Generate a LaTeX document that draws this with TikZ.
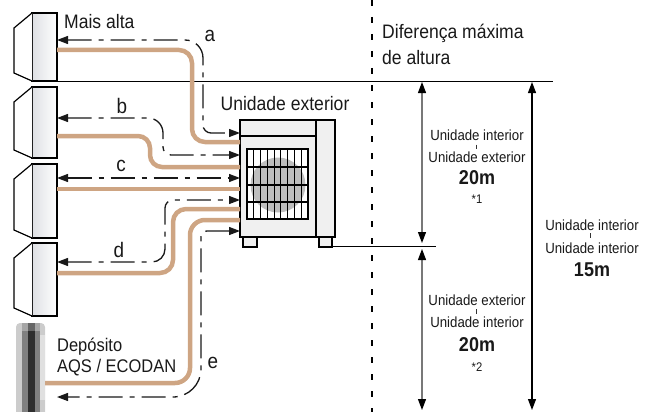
\documentclass[tikz,border=0pt]{standalone}
\usepackage{fontspec}
\setmainfont{Liberation Sans}[FakeStretch=0.9]
\usetikzlibrary{arrows.meta,calc}
\definecolor{pipecol}{RGB}{206,165,131}
\definecolor{iugray}{RGB}{222,224,228}
\definecolor{ougray}{RGB}{240,240,240}
\definecolor{fangray}{RGB}{190,190,190}
\definecolor{dimgray}{RGB}{120,120,120}
\begin{document}
\begin{tikzpicture}[x=1pt,y=-1pt,
  iubox/.style={draw=black, line width=1.2pt, minimum width=25pt, outer sep=0pt, inner sep=0pt,
     left color=iugray, right color=white, shading angle=90},
  iuside/.style={draw=black, line width=1.2pt, fill=white, line join=miter},
  pipeline/.style={draw=pipecol, line width=4.5pt, rounded corners=13pt},
  dashline/.style={draw=black!90, line width=1.3pt, dash pattern=on 24pt off 7pt on 5pt off 7pt,
     {Triangle[width=8pt,length=11pt]}-{Triangle[width=8pt,length=11pt]}},
  bigtxt/.style={font=\fontsize{19.5}{23}\selectfont, inner sep=0pt, text=black!90},
  midtxt/.style={font=\fontsize{18.3}{22}\selectfont, inner sep=0pt, text=black!90},
  lettxt/.style={font=\fontsize{21}{24}\selectfont, inner sep=0pt, text=black!90},
  smalltxt/.style={font=\fontsize{14.7}{17}\selectfont, inner sep=0pt, text=black!90},
  numtxt/.style={font=\bfseries\fontsize{20}{24}\selectfont, inner sep=0pt, text=black!90},
  notetxt/.style={font=\fontsize{12.5}{15}\selectfont, inner sep=0pt, text=black!90},
  dimarrow/.style={line width=1.2pt, {Triangle[width=8pt,length=11pt,color=black]}-{Triangle[width=8pt,length=11pt,color=black]}},
  tickline/.style={line width=0.7pt, black!80}
]
\useasboundingbox (0,0) rectangle (653,412);

% ---- reference lines
\draw[line width=1pt] (32,81) -- (553,81);
\draw[line width=1pt] (330,246) -- (436,246);
\draw[line width=1.4pt, dash pattern=on 6pt off 11pt] (372,0) -- (372,412);

% ---- indoor units
\node[iubox, minimum height=68pt] (u1) at (44.5,47) {};
\node[iubox, minimum height=71pt] (u2) at (44.5,122.5) {};
\node[iubox, minimum height=74pt] (u3) at (44.5,201) {};
\node[iubox, minimum height=73pt] (u4) at (44.5,279.5) {};
\foreach \u in {u1,u2,u3,u4}{
  \draw[iuside] (\u.north west) -- ++(-18,15) -- ($(\u.south west)+(-18,-8)$) -- (\u.south west);
}

% ---- tank
\node[minimum width=29pt, minimum height=95pt, inner sep=0pt, outer sep=0pt] (tank) at (30.5,370.5) {};
\fill[black!20, rounded corners=4pt] (16,323) rectangle (45,430);
\fill[black!50] (22,323) rectangle (39.5,430);
\fill[black!35] (22,323) rectangle (39.5,331);
\fill[black!82] (27.5,331) rectangle (34.5,430);
\fill[black!60] (27.5,323) rectangle (34.5,331);
\fill[black!12] (39.5,335) rectangle (45,400);

% ---- outdoor unit
\node[draw=black, line width=1.2pt, fill=ougray, minimum width=95pt, minimum height=117pt,
      inner sep=0pt, outer sep=0pt] (ou) at (287.5,178.5) {};
\draw[line width=1.2pt, fill=ougray] (243,237) rectangle (257,247);
\draw[line width=1.2pt, fill=ougray] (319,237) rectangle (332,247);
\draw[line width=1.2pt] (316,120) -- (316,237);
\draw[line width=1.2pt] (240,136) -- (316,136);
\fill[white] (247,149) rectangle (308,219);
\fill[fangray] (278,185) circle (27.5);
\draw[line width=1.2pt] (247,149) rectangle (308,219);
\foreach \i in {1,...,8}{ \draw[line width=1.1pt] ({247+\i*61/9},149) -- ({247+\i*61/9},219); }
\foreach \j in {167,185,202}{ \draw[line width=1.1pt] (247,\j) -- (308,\j); }

% ---- pipes
\draw[pipeline] (u1.east |- 0,50) -- (192,50) -- (192,142) -- (ou.west |- 0,142);
\draw[pipeline, rounded corners=12pt] (u2.east |- 0,136) -- (150,136) -- (150,167) -- (ou.west |- 0,167);
\draw[pipeline] (u3.east |- 0,189) -- (ou.west |- 0,189);
\draw[pipeline] (u4.east |- 0,273) -- (173,273) -- (173,209) -- (ou.west |- 0,209);
\draw[pipeline, rounded corners=15pt] (tank.east |- 0,383) -- (190,383) -- (190,220) -- (ou.west |- 0,220);

% ---- dashed measure lines
\coordinate (eend) at (57,397);
\draw[dashline, rounded corners=18pt] (u1.east |- 0,40) -- (203,40) [rounded corners=8pt] -- (203,133) -- (ou.west |- 0,133);
\draw[dashline, rounded corners=15pt] (u2.east |- 0,118) -- (163,118) [rounded corners=8pt] -- (163,155) -- (ou.west |- 0,155);
\draw[dashline] (u3.east |- 0,178) -- (ou.west |- 0,178);
\draw[dashline, rounded corners=13pt] (u4.east |- 0,262) -- (165,262) [rounded corners=8pt] -- (165,200) -- (ou.west |- 0,200);
\draw[dashline, rounded corners=6pt] (ou.west |- 0,231) -- (201,231) [rounded corners=28pt] -- (201,397) -- (eend);

% ---- labels left
\node[bigtxt, anchor=base west] (lmais) at (64,29) {Mais alta};
\node[lettxt] (la) at (210,36) {a};
\node[lettxt] (lb) at (122,106) {b};
\node[lettxt] (lc) at (121,166) {c};
\node[lettxt] (ld) at (119,250) {d};
\node[lettxt] (le) at (213,363) {e};
\node[bigtxt, anchor=base] (lou) at (285,110) {Unidade exterior};
\node[midtxt, anchor=base west] (ldep) at (57,351) {Depósito};
\node[midtxt, anchor=base west] (laqs) at (57,372) {AQS / ECODAN};

% ---- labels right
\node[bigtxt, anchor=base west] (ldif) at (382,39) {Diferença máxima};
\node[bigtxt, anchor=base west] (ldea) at (382,64) {de altura};

\coordinate (a1t) at (422,82);
\coordinate (a1b) at (422,243);
\coordinate (a2t) at (422,249);
\coordinate (a2b) at (422,410);
\coordinate (a3t) at (532,82);
\coordinate (a3b) at (532,410);
\draw[dimarrow, dimgray] (a1t) -- (a1b);
\draw[dimarrow, dimgray] (a2t) -- (a2b);
\draw[dimarrow, black] (a3t) -- (a3b);

\node[smalltxt, anchor=base] (t1a) at (477,140) {Unidade interior};
\draw[tickline] (476,144.5) -- (476,148.5);
\node[smalltxt, anchor=base] (t1b) at (477,162) {Unidade exterior};
\node[numtxt, anchor=base] (t1c) at (477,184) {20m};
\node[notetxt, anchor=base] (t1d) at (477,203) {*1};

\node[smalltxt, anchor=base] (t2a) at (477,305) {Unidade exterior};
\draw[tickline] (476,309) -- (476,314);
\node[smalltxt, anchor=base] (t2b) at (477,327) {Unidade interior};
\node[numtxt, anchor=base] (t2c) at (477,351) {20m};
\node[notetxt, anchor=base] (t2d) at (477,371) {*2};

\node[smalltxt, anchor=base] (t3a) at (592,230) {Unidade interior};
\draw[tickline] (590,233) -- (590,238);
\node[smalltxt, anchor=base] (t3b) at (592,253) {Unidade interior};
\node[numtxt, anchor=base] (t3c) at (592,276) {15m};
\end{tikzpicture}
\end{document}
